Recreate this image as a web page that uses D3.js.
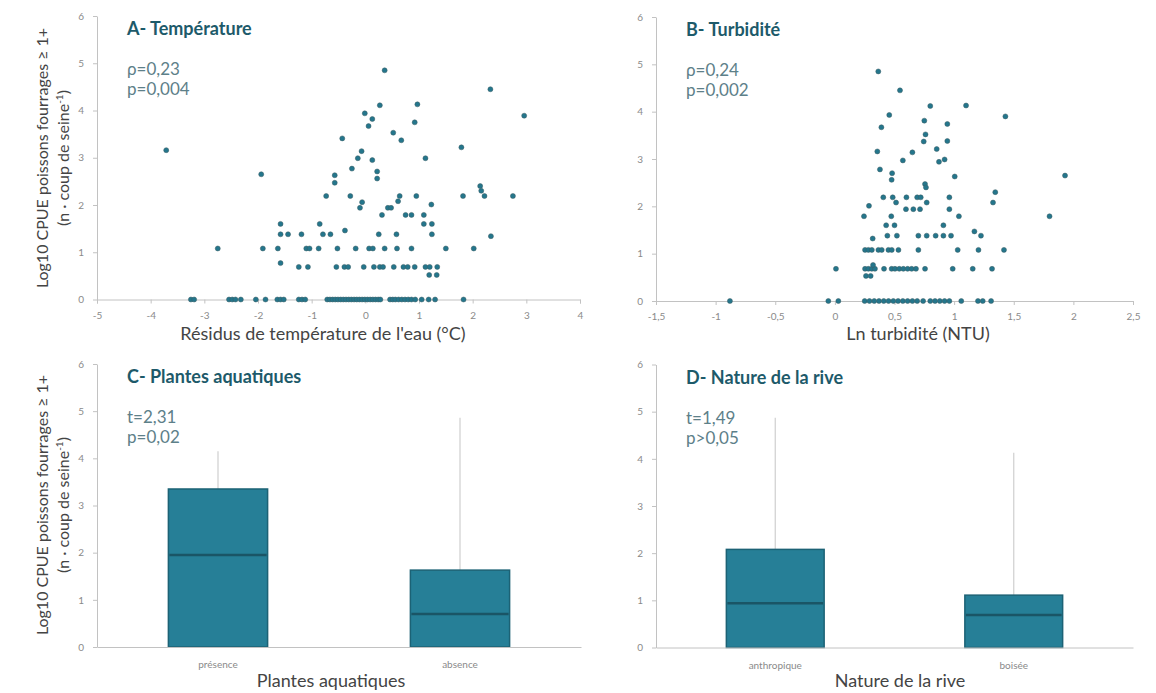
<!DOCTYPE html>
<html>
<head>
<meta charset="utf-8">
<script src="https://cdn.jsdelivr.net/npm/d3@7"></script>
<style>
  body { margin: 0; background: #fff; }
  text { font-family: Lato, "Open Sans", sans-serif; }
</style>
</head>
<body>
<script>
// --- data ---
// A: temperature residuals (°C) vs log10 CPUE
const tempPoints = [
  [-3.71,3.16],[-2.75,1.08],[-1.94,2.65],[-1.91,1.08],[-1.63,1.08],[-1.58,1.60],[-1.58,1.38],
  [-1.44,1.38],[-1.58,0.77],[-1.19,1.38],[-1.24,0.69],[-1.07,0.69],[-1.10,1.08],[-1.04,1.08],
  [-0.87,1.08],[-0.85,1.60],[-0.79,1.38],[-0.65,1.38],[-0.73,2.19],[-0.57,2.63],[-0.57,2.47],
  [-0.43,3.41],[-0.38,1.46],[-0.52,1.08],[-0.54,0.69],[-0.39,0.69],[-0.32,0.69],[-0.28,2.19],
  [-0.25,2.77],[-0.18,1.08],[-0.14,2.99],[-0.07,3.14],[-0.10,1.94],[-0.06,2.06],[-0.01,3.94],
  [0.06,3.67],[0.13,3.82],[0.13,2.95],[0.22,2.71],[0.22,2.56],[0.27,4.11],[0.36,4.85],
  [0.31,1.79],[0.25,1.38],[0.07,1.08],[0.14,1.08],[-0.03,0.69],[0.16,0.69],[0.27,0.69],
  [0.33,0.69],[0.36,1.08],[0.52,3.53],[0.67,3.37],[0.42,1.94],[0.48,1.94],[0.58,1.38],
  [0.59,1.08],[0.61,2.08],[0.64,2.19],[0.53,0.69],[0.75,1.79],[0.86,1.79],[0.71,0.69],
  [0.79,0.69],[0.86,1.08],[0.92,3.75],[0.97,4.13],[0.95,2.19],[0.92,0.69],[1.12,2.99],
  [1.09,1.79],[1.09,1.60],[1.24,1.60],[1.23,2.01],[1.24,1.38],[1.12,0.69],[1.20,0.69],
  [1.34,0.69],[1.19,0.52],[1.33,0.52],[1.50,1.08],[1.79,3.22],[1.82,2.19],[2.02,1.08],
  [2.14,2.40],[2.16,2.30],[2.22,2.19],[2.33,4.45],[2.34,1.34],[2.75,2.19],[2.96,3.89]
];
// residuals of the samples with zero catch
const tempZeros = [-3.25,-3.19,-2.54,-2.48,-2.42,-2.32,-2.04,-1.86,-1.64,-1.58,-1.52,-1.24,-1.18,-1.12,
  -0.71,-0.66,-0.61,-0.56,-0.51,-0.46,-0.41,-0.36,-0.31,-0.26,-0.21,-0.16,-0.11,-0.06,-0.01,
  0.04,0.09,0.14,0.19,0.24,0.28,0.46,0.51,0.56,0.62,0.68,0.74,0.80,0.86,0.93,1.05,1.18,1.30,1.83];

// B: ln turbidity vs log10 CPUE
const turbPoints = [
  [0.364,4.85],[0.546,4.45],[0.80,4.12],[1.10,4.13],[1.43,3.90],[0.456,3.93],[0.39,3.67],
  [0.75,3.81],[0.943,3.74],[0.76,3.52],[0.745,3.37],[0.943,3.38],[0.854,3.21],[0.356,3.16],
  [0.65,3.14],[0.57,2.97],[0.873,2.94],[0.92,2.99],[0.378,2.78],[0.48,2.70],[0.476,2.56],
  [1.005,2.63],[0.756,2.47],[0.764,2.40],[1.345,2.30],[1.326,2.08],[1.80,1.79],[1.93,2.65],
  [0.406,2.19],[0.485,2.19],[0.60,2.19],[0.69,2.19],[0.72,2.19],[0.96,2.19],
  [0.513,2.08],[0.77,2.08],[0.286,2.01],
  [0.596,1.94],[0.658,1.94],[0.714,1.94],[0.96,1.94],
  [0.244,1.79],[0.473,1.79],[1.04,1.79],
  [0.43,1.60],[0.50,1.60],[0.91,1.60],
  [0.44,1.38],[0.52,1.38],[0.70,1.38],[0.77,1.38],[0.845,1.38],[0.91,1.38],[0.974,1.38],[1.225,1.38],
  [1.17,1.47],[0.317,1.32],
  [0.253,1.08],[0.281,1.08],[0.31,1.08],[0.365,1.08],[0.393,1.08],[0.449,1.08],[0.477,1.08],
  [0.533,1.08],[0.70,1.08],[1.03,1.08],[1.204,1.08],[1.418,1.08],
  [0.009,0.68],[0.253,0.68],[0.281,0.68],[0.31,0.68],[0.336,0.68],[0.412,0.68],[0.476,0.68],
  [0.504,0.68],[0.54,0.68],[0.574,0.68],[0.61,0.68],[0.644,0.68],[0.68,0.68],[0.756,0.68],
  [0.988,0.68],[1.156,0.68],[1.318,0.68],[0.32,0.76],
  [0.261,0.53],[0.30,0.53]
];
const turbZeros = [-0.88,-0.055,0.029,0.25,0.29,0.33,0.37,0.41,0.45,0.49,0.53,0.57,0.61,0.65,
  0.69,0.74,0.80,0.84,0.88,0.92,0.96,1.06,1.20,1.24,1.31];

// C, D: box plots (Q1 is 0 for every group)
const plantCats = ["présence", "absence"];
const plantQ1 = [0, 0];
const plantMedian = [1.95, 0.70];
const plantQ3 = [3.35, 1.63];
const plantMax = [4.15, 4.86];

const riveCats = ["anthropique", "boisée"];
const riveQ1 = [0, 0];
const riveMedian = [0.94, 0.69];
const riveQ3 = [2.08, 1.11];
const riveMax = [4.87, 4.13];

// axis ticks
const cpueTicks = [0, 1, 2, 3, 4, 5, 6];
const tempTicks = [-5, -4, -3, -2, -1, 0, 1, 2, 3, 4];
const turbTicks = [-1.5, -1, -0.5, 0, 0.5, 1, 1.5, 2, 2.5];

const W = 1156, H = 693;
const svg = d3.select("body").append("svg").attr("width", W).attr("height", H);

const axisGrey = "#c2c2c2";
const dotColor = "#24768c";
const titleColor = "#1d5a6a";
const statColor = "#5d8089";

const fmt = d => String(d).replace(".", ",");

function makeY(top, bottom) {
  return d3.scaleLinear().domain([0, 6]).range([bottom, top]);
}

function drawYAxis(g, y, left) {
  const ax = g.append("g")
    .attr("transform", `translate(${left},0)`)
    .call(d3.axisLeft(y).tickValues(cpueTicks).tickFormat(fmt).tickSize(4).tickPadding(9).tickSizeOuter(0));
  styleAxis(ax);
}

function styleAxis(ax) {
  ax.select(".domain").attr("stroke", axisGrey);
  ax.selectAll(".tick line").attr("stroke", axisGrey);
  ax.selectAll(".tick text").attr("fill", "#8a8a8a").style("font-size", "10px");
}

function panelText(g, left, top, title, stats) {
  g.append("text").attr("x", left + 30).attr("y", top + 19)
    .attr("fill", titleColor).style("font-weight", "bold").style("font-size", "18px")
    .text(title);
  stats.forEach((s, i) => {
    g.append("text").attr("x", left + 30).attr("y", top + 59 + i * 20)
      .attr("fill", statColor).style("font-size", "17px").text(s);
  });
}

function yTitle(cy) {
  const t = svg.append("g").attr("transform", `translate(48,${cy}) rotate(-90)`);
  t.append("text").attr("text-anchor", "middle").attr("fill", "#444").style("font-size", "16px")
    .text("Log10 CPUE poissons fourrages ≥ 1+");
  const l2 = t.append("text").attr("y", 21).attr("text-anchor", "middle").attr("fill", "#444")
    .style("font-size", "16px");
  l2.append("tspan").text("(n · coup de seine");
  l2.append("tspan").attr("dy", -6).style("font-size", "10px").text("-1");
  l2.append("tspan").attr("dy", 6).text(")");
}

function xTitle(cx, yPos, label) {
  svg.append("text").attr("x", cx).attr("y", yPos).attr("text-anchor", "middle")
    .attr("fill", "#444").style("font-size", "18px").text(label);
}

// scatter panel
function scatter(box, xTicks, pts, zeros, title, stats) {
  const g = svg.append("g");
  const x = d3.scaleLinear().domain([xTicks[0], xTicks[xTicks.length - 1]]).range([box.left, box.right]);
  const y = makeY(box.top, box.bottom);

  const ax = g.append("g").attr("transform", `translate(0,${box.bottom})`)
    .call(d3.axisBottom(x).tickValues(xTicks).tickFormat(fmt).tickSize(4).tickPadding(8).tickSizeOuter(4));
  styleAxis(ax);
  drawYAxis(g, y, box.left);

  const all = pts.concat(zeros.map(v => [v, 0]));
  g.append("g").selectAll("circle").data(all).join("circle")
    .attr("cx", d => x(d[0])).attr("cy", d => y(d[1])).attr("r", 2.5)
    .attr("fill", dotColor).attr("stroke", "#3d5d63").attr("stroke-width", 0.5);

  panelText(g, box.left, box.top, title, stats);
}

// box plot panel
function boxplot(box, cats, q1, med, q3, mx, title, stats) {
  const g = svg.append("g");
  const x = d3.scaleBand().domain(cats).range([box.left, box.right]).paddingInner(0).paddingOuter(0);
  const y = makeY(box.top, box.bottom);
  const bw = x.bandwidth() * 0.41;

  const rows = cats.map((c, i) => ({c, q1: q1[i], med: med[i], q3: q3[i], max: mx[i]}));
  const cx = d => x(d.c) + x.bandwidth() / 2;

  g.append("g").selectAll("line").data(rows).join("line")
    .attr("x1", cx).attr("x2", cx).attr("y1", d => y(d.q3)).attr("y2", d => y(d.max))
    .attr("stroke", "#cfcfcf").attr("stroke-width", 1.2);

  g.append("g").selectAll("rect").data(rows).join("rect")
    .attr("x", d => cx(d) - bw / 2).attr("width", bw)
    .attr("y", d => y(d.q3)).attr("height", d => y(d.q1) - y(d.q3))
    .attr("fill", "#267f97").attr("stroke", "#1c6275").attr("stroke-width", 1.5);

  g.append("g").selectAll("line").data(rows).join("line")
    .attr("x1", d => cx(d) - bw / 2 + 1).attr("x2", d => cx(d) + bw / 2 - 1)
    .attr("y1", d => y(d.med)).attr("y2", d => y(d.med))
    .attr("stroke", "#1a5566").attr("stroke-width", 2.5);

  const ax = g.append("g").attr("transform", `translate(0,${box.bottom})`)
    .call(d3.axisBottom(x).tickSize(0).tickPadding(14));
  styleAxis(ax);
  drawYAxis(g, y, box.left);

  panelText(g, box.left, box.top, title, stats);
}

scatter({left: 97, right: 580, top: 16, bottom: 299.5}, tempTicks, tempPoints, tempZeros,
  "A- Température", ["ρ=0,23", "p=0,004"]);
scatter({left: 656, right: 1133, top: 17, bottom: 301}, turbTicks, turbPoints, turbZeros,
  "B- Turbidité", ["ρ=0,24", "p=0,002"]);
boxplot({left: 97, right: 581, top: 364, bottom: 647}, plantCats, plantQ1, plantMedian, plantQ3, plantMax,
  "C- Plantes aquatiques", ["t=2,31", "p=0,02"]);
boxplot({left: 656, right: 1133, top: 364.5, bottom: 647.5}, riveCats, riveQ1, riveMedian, riveQ3, riveMax,
  "D- Nature de la rive", ["t=1,49", "p>0,05"]);

yTitle(158);
yTitle(505);
xTitle(323, 340, "Résidus de température de l'eau (°C)");
xTitle(918, 340, "Ln turbidité (NTU)");
xTitle(331, 687, "Plantes aquatiques");
xTitle(900, 687, "Nature de la rive");
</script>
</body>
</html>
